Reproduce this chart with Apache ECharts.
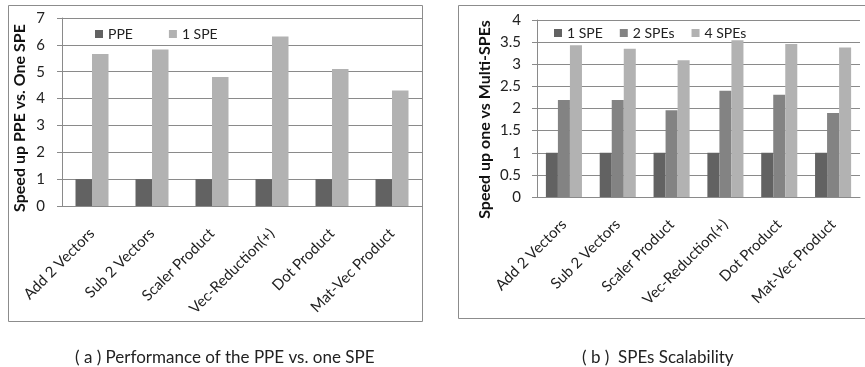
<!DOCTYPE html>
<html><head><meta charset="utf-8">
<script src="https://cdn.jsdelivr.net/npm/echarts@6/dist/echarts.min.js"></script>
<style>html,body{margin:0;padding:0;background:#fff}#c{width:865px;height:367px}</style>
</head><body><div id="c"></div>
<script>
const categories = ['Add 2 Vectors','Sub 2 Vectors','Scaler Product','Vec-Reduction(+)','Dot Product','Mat-Vec Product'];
// chart (a)
const ppe = [1,1,1,1,1,1];
const oneSpeA = [5.66,5.83,4.8,6.31,5.1,4.3];
const ticksA = {min:0, max:7, interval:1};
// chart (b)
const oneSpeB = [1,1,1,1,1,1];
const twoSpes = [2.19,2.19,1.96,2.4,2.31,1.9];
const fourSpes = [3.43,3.35,3.09,3.54,3.46,3.38];
const ticksB = {min:0, max:4, interval:0.5};

const FONT = 'Lato';
const C_DARK = '#626262', C_MID = '#838383', C_LIGHT = '#b2b2b2';
const gridColor = '#8a8a8a';

function xAxis(gi){
  return {type:'category', gridIndex:gi, data:categories,
    axisLine:{lineStyle:{color:gridColor}}, axisTick:{show:false},
    axisLabel:{rotate:45, margin:25, color:'#222', fontFamily:FONT, fontSize:15, interval:0}};
}
function yAxis(gi, t, name, gap, pad, lm){
  return {type:'value', gridIndex:gi, min:t.min, max:t.max, interval:t.interval,
    name:name, nameLocation:'middle', nameGap:gap,
    nameTextStyle:{fontFamily:FONT, fontWeight:'bold', fontSize:16, color:'#111', padding:[0,pad,0,0]},
    axisLine:{show:true, lineStyle:{color:gridColor}},
    axisTick:{show:true, length:5, lineStyle:{color:gridColor}},
    splitLine:{lineStyle:{color:gridColor}},
    axisLabel:{color:'#222', fontFamily:FONT, fontSize:15, margin:lm}};
}
const chart = echarts.init(document.getElementById('c'));
chart.setOption({
  animation:false,
  graphic:[
    {type:'rect', shape:{x:8.5,y:5.5,width:414,height:316}, style:{fill:'none', stroke:'#8c8c8c', lineWidth:1}},
    {type:'rect', shape:{x:458.5,y:5.5,width:420,height:313}, style:{fill:'none', stroke:'#8c8c8c', lineWidth:1}}
  ],
  title:[
    {text:'( a ) Performance of the PPE vs. one SPE', left:70, top:344, textStyle:{fontFamily:FONT, fontWeight:'normal', fontSize:17, color:'#222'}},
    {text:'( b )  SPEs Scalability', left:577, top:344, textStyle:{fontFamily:FONT, fontWeight:'normal', fontSize:17, color:'#222'}}
  ],
  legend:[
    {left:90, top:22, icon:'rect', itemWidth:8, itemHeight:8, itemGap:36,
     textStyle:{fontFamily:FONT, fontSize:14, color:'#222'},
     data:[{name:'PPE', itemStyle:{color:C_DARK}}, {name:'1 SPE', itemStyle:{color:C_LIGHT}}]},
    {left:549, top:21, icon:'rect', itemWidth:8, itemHeight:8, itemGap:17,
     textStyle:{fontFamily:FONT, fontSize:14, color:'#222'},
     data:[{name:'1 SPE', itemStyle:{color:C_DARK}}, {name:'2 SPEs', itemStyle:{color:C_MID}}, {name:'4 SPEs', itemStyle:{color:C_LIGHT}}]}
  ],
  grid:[
    {left:62, right:443, top:18, bottom:161},
    {left:537, right:5, top:20, bottom:170}
  ],
  xAxis:[xAxis(0), xAxis(1)],
  yAxis:[yAxis(0, ticksA, 'Speed up PPE vs. One SPE', 34, 12, 17), yAxis(1, ticksB, 'Speed up one vs Multi-SPEs', 44, 22, 16)],
  series:[
    {type:'bar', name:'PPE', xAxisIndex:0, yAxisIndex:0, data:ppe, itemStyle:{color:C_DARK}, barGap:'0%', barCategoryGap:'45%'},
    {type:'bar', name:'1 SPE', xAxisIndex:0, yAxisIndex:0, data:oneSpeA, itemStyle:{color:C_LIGHT}, barGap:'0%', barCategoryGap:'45%'},
    {type:'bar', name:'1 SPE', xAxisIndex:1, yAxisIndex:1, data:oneSpeB, itemStyle:{color:C_DARK}, barGap:'0%', barCategoryGap:'33%'},
    {type:'bar', name:'2 SPEs', xAxisIndex:1, yAxisIndex:1, data:twoSpes, itemStyle:{color:C_MID}, barGap:'0%', barCategoryGap:'33%'},
    {type:'bar', name:'4 SPEs', xAxisIndex:1, yAxisIndex:1, data:fourSpes, itemStyle:{color:C_LIGHT}, barGap:'0%', barCategoryGap:'33%'}
  ]
});
</script></body></html>
